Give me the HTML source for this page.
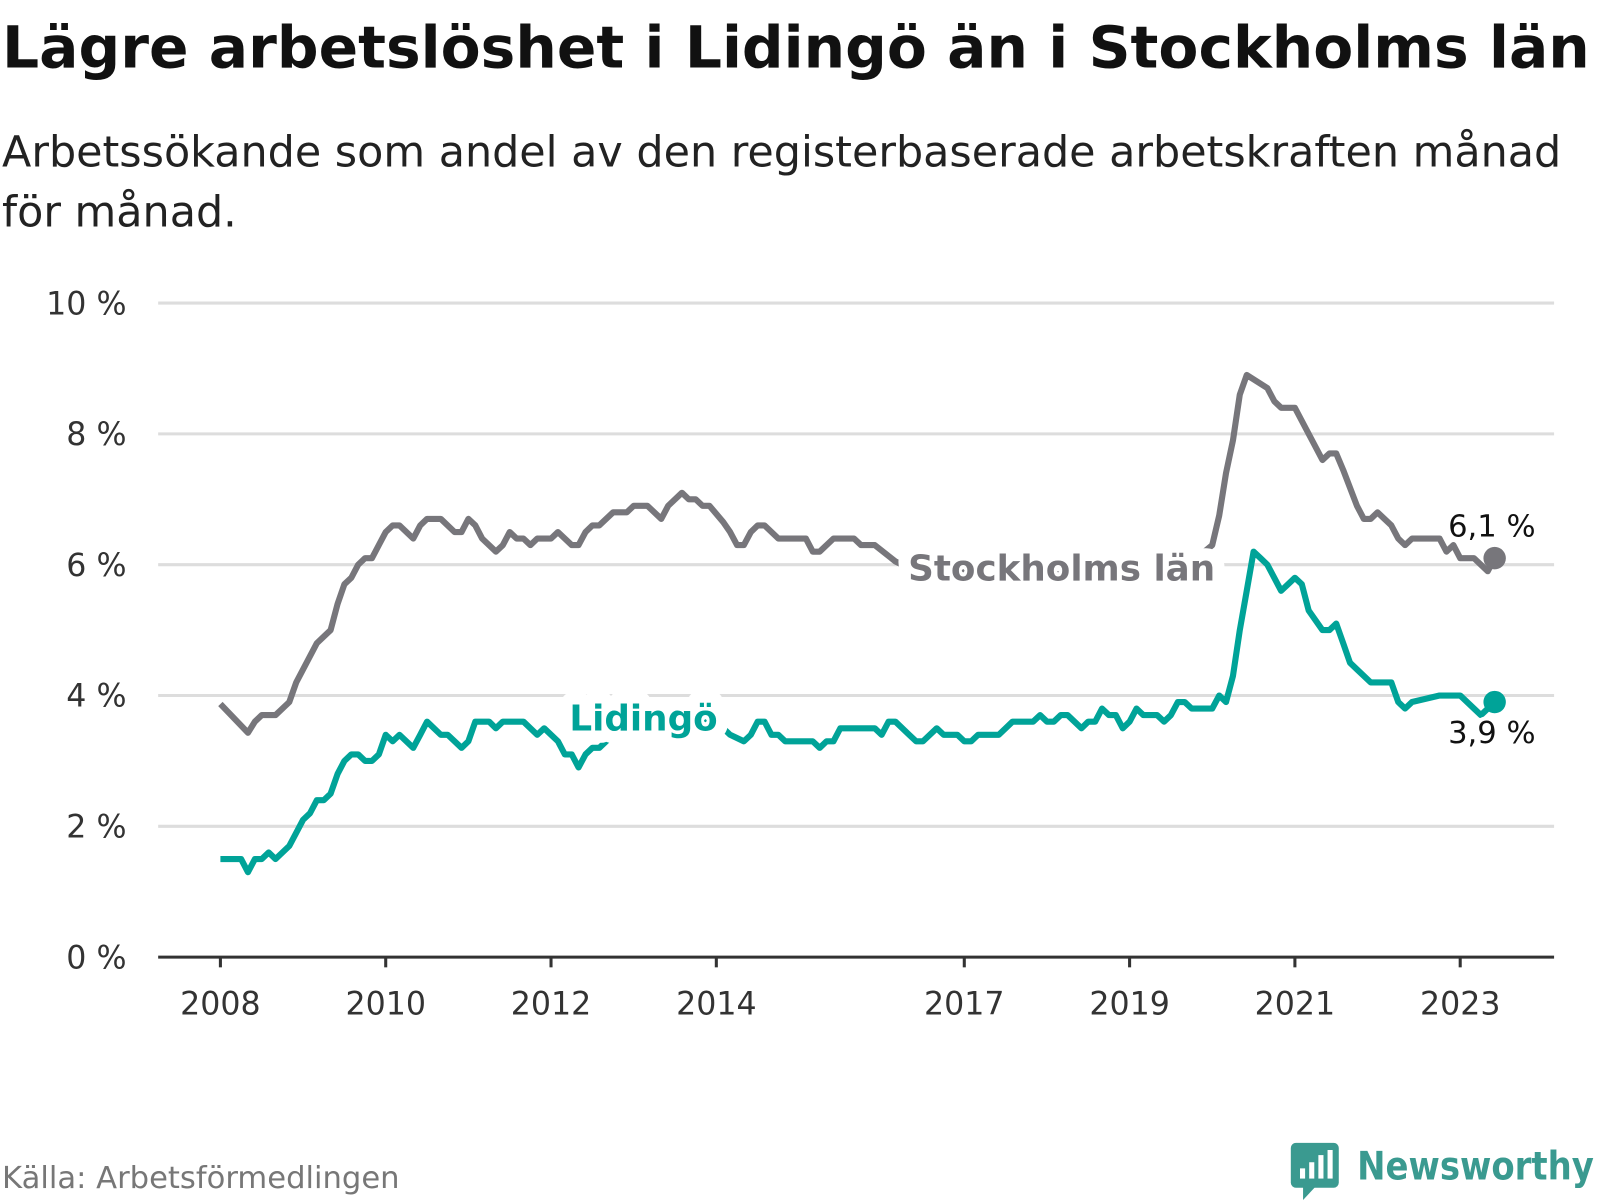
<!DOCTYPE html>
<html><head><meta charset="utf-8">
<style>
body{margin:0;background:#fff;width:1600px;height:1200px;overflow:hidden;font-family:"DejaVu Sans","Liberation Sans",sans-serif;}
svg text{font-family:"DejaVu Sans","Liberation Sans",sans-serif;}
</style></head>
<body>
<svg id="chart" width="1600" height="1200" viewBox="0 0 1568 1176">
<text x="2" y="66" font-size="57" font-weight="bold" fill="#111" textLength="1556" lengthAdjust="spacingAndGlyphs">Lägre arbetslöshet i Lidingö än i Stockholms län</text>
<text x="2" y="163" font-size="42" fill="#222">Arbetssökande som andel av den registerbaserade arbetskraften månad</text>
<text x="2" y="222" font-size="42" fill="#222">för månad.</text>
<g id="grid"></g><g id="series"></g><g id="labels"></g>
<text x="2" y="1164" font-size="30" fill="#777">Källa: Arbetsförmedlingen</text>
<g>
<rect x="1265" y="1120" width="47" height="44" rx="5" fill="#3a9a90"/>
<polygon points="1277,1162 1290,1162 1277,1176" fill="#3a9a90"/>
<rect x="1274" y="1145" width="5" height="10" fill="#fff"/><rect x="1283" y="1139" width="5" height="16" fill="#fff"/><rect x="1292" y="1132" width="5" height="23" fill="#fff"/><rect x="1301" y="1127" width="5" height="28" fill="#fff"/>
<text x="1330" y="1156" font-size="38" font-weight="bold" fill="#3a9a90" textLength="232" lengthAdjust="spacingAndGlyphs">Newsworthy</text>
</g>
</svg>
<script>
const yTicks=[0,2,4,6,8,10];
const xTickYears=[2008,2010,2012,2014,2017,2019,2021,2023];
const stoM=[0,4,5,6,8,10,11,14,16,17,18,19,20,21,22,24,25,26,28,29,30,32,34,35,36,37,38,40,41,42,43,44,45,46,48,49,51,52,53,54,55,57,59,60,62,64,65,67,68,69,70,71,73,74,75,76,77,78,79,81,85,86,87,89,92,93,95,98,100,105,110,115,120,125,130,135,140,144,145,146,147,148,149,152,153,154,156,158,160,161,162,163,165,166,167,168,170,171,172,173,177,178,179,180,182,184,185];
const stoV=[3.87,3.43,3.6,3.7,3.7,3.9,4.2,4.8,5.0,5.4,5.7,5.8,6.0,6.1,6.1,6.5,6.6,6.6,6.4,6.6,6.7,6.7,6.5,6.5,6.7,6.6,6.4,6.2,6.3,6.5,6.4,6.4,6.3,6.4,6.4,6.5,6.3,6.3,6.5,6.6,6.6,6.8,6.8,6.9,6.9,6.7,6.9,7.1,7.0,7.0,6.9,6.9,6.65,6.5,6.3,6.3,6.5,6.6,6.6,6.4,6.4,6.2,6.2,6.4,6.4,6.3,6.3,6.05,5.95,5.9,5.9,5.85,5.85,5.85,5.9,5.9,5.95,6.3,6.75,7.4,7.9,8.6,8.9,8.7,8.5,8.4,8.4,8.0,7.6,7.7,7.7,7.45,6.9,6.7,6.7,6.8,6.6,6.4,6.3,6.4,6.4,6.2,6.3,6.1,6.1,5.9,6.1];
const lidM=[0,3,4,5,6,7,8,10,11,12,13,14,15,16,17,18,19,20,21,22,23,24,25,26,28,29,30,32,33,35,36,37,39,40,41,44,46,47,49,50,51,52,53,54,55,57,60,64,68,72,74,76,77,78,79,80,81,82,86,87,88,89,90,95,96,97,98,100,101,102,104,105,107,108,109,110,113,115,118,119,120,121,122,123,125,126,127,128,129,130,131,132,133,134,136,137,138,139,140,141,144,145,146,147,148,149,150,151,152,153,154,155,156,157,158,160,161,162,163,164,165,167,170,171,172,173,177,180,183,185];
const lidV=[1.5,1.5,1.3,1.5,1.5,1.6,1.5,1.7,1.9,2.1,2.2,2.4,2.4,2.5,2.8,3.0,3.1,3.1,3.0,3.0,3.1,3.4,3.3,3.4,3.2,3.4,3.6,3.4,3.4,3.2,3.3,3.6,3.6,3.5,3.6,3.6,3.4,3.5,3.3,3.1,3.1,2.9,3.1,3.2,3.2,3.4,3.6,3.7,3.7,3.6,3.4,3.3,3.4,3.6,3.6,3.4,3.4,3.3,3.3,3.2,3.3,3.3,3.5,3.5,3.4,3.6,3.6,3.4,3.3,3.3,3.5,3.4,3.4,3.3,3.3,3.4,3.4,3.6,3.6,3.7,3.6,3.6,3.7,3.7,3.5,3.6,3.6,3.8,3.7,3.7,3.5,3.6,3.8,3.7,3.7,3.6,3.7,3.9,3.9,3.8,3.8,4.0,3.9,4.3,5.0,5.6,6.2,6.1,6.0,5.8,5.6,5.7,5.8,5.7,5.3,5.0,5.0,5.1,4.8,4.5,4.4,4.2,4.2,3.9,3.8,3.9,4.0,4.0,3.7,3.9,3.9];
const NS="http://www.w3.org/2000/svg";
const X=m=>216+m*6.75, Y=v=>938-v*64.1;
const XY=y=>X((y-2008)*12);
function mk(tag,attrs,parent){const e=document.createElementNS(NS,tag);for(const k in attrs)e.setAttribute(k,attrs[k]);parent.appendChild(e);return e;}
const grid=document.getElementById('grid'),ser=document.getElementById('series'),lab=document.getElementById('labels');
yTicks.forEach(t=>{
 const l=mk('line',{x1:155,x2:1523,y1:Y(t),y2:Y(t),stroke:t===0?'#333':'#ddd','stroke-width':3},grid);
 
 
 const tx=mk('text',{x:124,y:Y(t)+11,'text-anchor':'end','font-size':31,fill:'#333'},grid);
 tx.textContent=t+' %';
 
 
});
xTickYears.forEach(yr=>{
 const l=mk('line',{x1:XY(yr),x2:XY(yr),y1:938,y2:948,stroke:'#333','stroke-width':3},grid);
 
 
 const tx=mk('text',{x:XY(yr),y:994,'text-anchor':'middle','font-size':31,fill:'#333'},grid);
 tx.textContent=yr;
 
 
});
function line(ms,vs,color,name){
 const d=ms.map((m,i)=>(i?'L':'M')+X(m).toFixed(1)+','+Y(vs[i]).toFixed(1)).join('');
 const p=mk('path',{d:d,fill:'none',stroke:color,'stroke-width':6,'stroke-linejoin':'round'},ser);
 
 
 const c=mk('circle',{cx:X(ms[ms.length-1]),cy:Y(vs[vs.length-1]),r:11,fill:color},ser);
 
 
}
line(stoM,stoV,'#77767b','stockholm-line');
line(lidM,lidV,'#00a398','lidingo-line');
function label(txt,x,y,color,bold,name,anchor){
 const t=mk('text',{x:x,y:y,'font-size':bold?35:30,'font-weight':bold?'bold':'normal',fill:color,stroke:'#fff','stroke-width':bold?24:8,'paint-order':'stroke','stroke-linejoin':'round','text-anchor':anchor||'start'},lab);
 t.textContent=txt;
 
 
}
label('Stockholms län',890,569,'#77767b',true,'stockholm-label');
label('Lidingö',558,716,'#00a398',true,'lidingo-label');
label('6,1 %',1462,526,'#111',false,'stockholm-end-value','middle');
label('3,9 %',1462,728,'#111',false,'lidingo-end-value','middle');
</script>
</body></html>
